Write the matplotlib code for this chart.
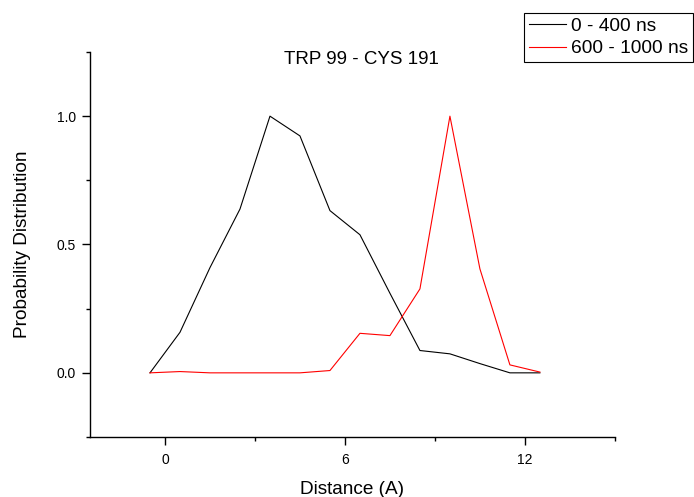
import matplotlib
matplotlib.use("Agg")
import matplotlib.pyplot as plt
from matplotlib.ticker import FixedLocator

# Data
distance = [-0.5, 0.5, 1.5, 2.5, 3.5, 4.5, 5.5, 6.5, 7.5, 8.5, 9.5, 10.5, 11.5, 12.5]
prob_0_400 = [0.0, 0.158, 0.41, 0.638, 1.0, 0.923, 0.632, 0.538, 0.31, 0.087, 0.074, 0.036, 0.0, 0.0]
prob_600_1000 = [0.0, 0.005, 0.0, 0.0, 0.0, 0.0, 0.009, 0.154, 0.145, 0.327, 1.0, 0.405, 0.031, 0.003]
series_labels = ["0 - 400 ns", "600 - 1000 ns"]
title_text = "TRP 99 - CYS 191"

plt.rcParams.update({
    "font.family": ["Liberation Sans", "DejaVu Sans"],
    "axes.linewidth": 1.0,
})

fig = plt.figure(figsize=(6.94, 4.97), dpi=100)
ax = fig.add_axes([0.1297, 0.1207, 0.7563, 0.7747])

l1, = ax.plot(distance, prob_0_400, color="black", lw=0.8)
l2, = ax.plot(distance, prob_600_1000, color="red", lw=0.8)

ax.set_xlim(-2.5, 15)
ax.set_ylim(-0.25, 1.25)
ax.spines["top"].set_visible(False)
ax.spines["right"].set_visible(False)

ax.xaxis.set_major_locator(FixedLocator([0, 6, 12]))
ax.xaxis.set_minor_locator(FixedLocator([3, 9, 15]))
ax.yaxis.set_major_locator(FixedLocator([0.0, 0.5, 1.0]))
ax.yaxis.set_minor_locator(FixedLocator([-0.25, 0.25, 0.75, 1.25]))
ax.set_yticklabels(["0.0", "0.5", "1.0"])
ax.tick_params(which="major", direction="out", length=6, width=1.0, labelsize=10)
ax.tick_params(which="minor", direction="out", length=3, width=1.0)
ax.tick_params(axis="x", which="major", pad=5.3)
ax.tick_params(axis="y", which="major", pad=4.3)

ax.set_xlabel("Distance (A)", fontsize=13.7, labelpad=10)
ax.set_ylabel("Probability Distribution", fontsize=13.7, labelpad=18)

ax.text(6.55, 1.22, title_text, ha="center", va="center", fontsize=13.5)

leg = fig.legend([l1, l2], series_labels, loc="upper right",
                 bbox_to_anchor=(693 / 694, 1 - 13 / 497),
                 fontsize=13.8, frameon=True, fancybox=False, edgecolor="black",
                 framealpha=1, borderpad=0.25, labelspacing=0.25,
                 handlelength=1.95, handletextpad=0.25, borderaxespad=0)
leg.get_frame().set_linewidth(0.8)

fig.savefig("out.png", dpi=100)
